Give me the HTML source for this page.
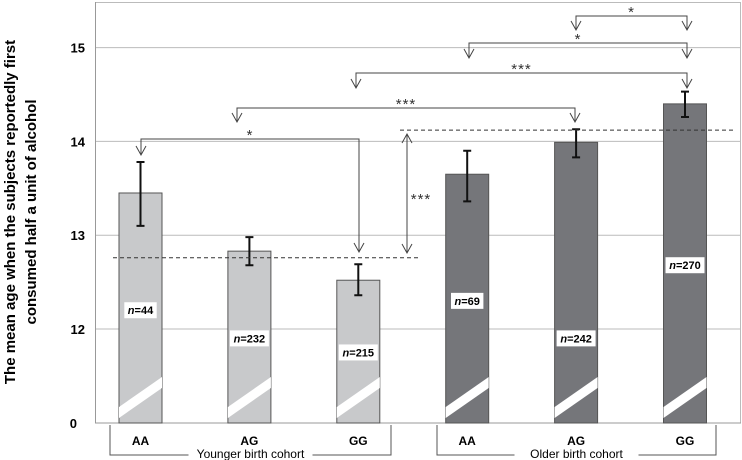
<!DOCTYPE html>
<html><head><meta charset="utf-8"><style>
body{margin:0;background:#fff;}
svg{display:block;font-family:"Liberation Sans",sans-serif;}
</style></head><body>
<svg id="c" width="742" height="460"></svg>
<script>
const categories=["AA","AG","GG","AA","AG","GG"];
const means=[13.45,12.83,12.52,13.65,13.99,14.4];
const errLow=[13.1,12.68,12.36,13.36,13.83,14.26];
const errHigh=[13.78,12.98,12.69,13.9,14.13,14.53];
const nLabels=["44","232","215","69","242","270"];
const nValues=[12.2,11.9,11.75,12.3,11.9,12.68];
const yTicks=[12,13,14,15];
const groupMeans=[12.76,14.12];
const NS="http://www.w3.org/2000/svg";
const svg=document.getElementById("c");
function y(v){return 329-(v-12)*93.8;}
function x(i){return 119+i*108.9;}
function el(t,a,p){const e=document.createElementNS(NS,t);for(const k in a)e.setAttribute(k,a[k]);(p||svg).appendChild(e);return e;}
const fr=el("rect",{x:95.5,y:2.5,width:645,height:420.5,fill:"none",stroke:"#bbb"});

yTicks.forEach(t=>{
 const g=el("line",{x1:95,x2:741,y1:y(t),y2:y(t),stroke:"#bbb","stroke-width":1});
 
 const tx=el("text",{x:85,y:y(t)+5,"text-anchor":"end","font-size":13,"font-weight":"bold"});tx.textContent=t;
 
});
const z=el("text",{x:77,y:428,"text-anchor":"end","font-size":13,"font-weight":"bold"});z.textContent="0";

el("line",{x1:95,x2:741,y1:423,y2:423,stroke:"#999"});
el("line",{x1:95.5,x2:95.5,y1:2,y2:423,stroke:"#999"});
categories.forEach((c,i)=>{
 const bx=x(i), w=43, top=y(means[i]);
 const fill=i<3?"#c8c9cb":"#75767a";
 const r=el("rect",{x:bx,y:top,width:w,height:423-top,fill:fill,stroke:"#555","stroke-width":1});
 
 
 el("polygon",{points:`${bx},${407} ${bx+w},${377} ${bx+w},${388} ${bx},${418}`,fill:"#fff"});
 const cx=bx+w/2;
 const eb=el("path",{d:`M${cx},${y(errHigh[i])}V${y(errLow[i])}M${cx-4},${y(errHigh[i])}h8M${cx-4},${y(errLow[i])}h8`,stroke:"#111","stroke-width":2,fill:"none"});
 
 const ly=y(nValues[i]);
 const lab="n="+nLabels[i];
 const bw=lab.length*6.6+6;
 el("rect",{x:cx-bw/2,y:ly-8,width:bw,height:16,fill:"#fff"});
 const t=el("text",{x:cx,y:ly+4,"text-anchor":"middle","font-size":11,"font-weight":"bold"});
 t.innerHTML='<tspan font-style="italic">n</tspan>='+nLabels[i];
 
 const ct=el("text",{x:cx,y:445,"text-anchor":"middle","font-size":12,"font-weight":"bold"});ct.textContent=c;
 
});
[[113,420],[400,733]].forEach((r,k)=>{
 const d=el("line",{x1:r[0],x2:r[1],y1:y(groupMeans[k]),y2:y(groupMeans[k]),stroke:"#333","stroke-dasharray":"4,3"});
 
});
[[110,391,"Younger birth cohort"],[437,716,"Older birth cohort"]].forEach(g=>{
 el("path",{d:`M${g[0]},425V455H${g[1]}V425`,stroke:"#555",fill:"none"});
 const m=(g[0]+g[1])/2;
 el("rect",{x:m-62,y:448,width:124,height:12,fill:"#fff"});
 const t=el("text",{x:m,y:458,"text-anchor":"middle","font-size":12});t.textContent=g[2];
 
});
function arrow(ax,ay){el("path",{d:`M${ax-5},${ay-9}L${ax},${ay}L${ax+5},${ay-9}`,stroke:"#444",fill:"none"});}
[[576,687,16,30,30,"*"],[469,687,43,58,58,"*"],[356,687,73,88,88,"***"],[237,575,108,122,122,"***"],[141,359,139,155,252,"*"]].forEach(b=>{
 const p=el("path",{d:`M${b[0]},${b[3]}V${b[2]}H${b[1]}V${b[4]}`,stroke:"#444",fill:"none"});
 
 arrow(b[0],b[3]);arrow(b[1],b[4]);
 const t=el("text",{x:(b[0]+b[1])/2,y:b[2]+1,"text-anchor":"middle","font-size":15,fill:"#333","letter-spacing":"1"});t.textContent=b[5];
});
el("path",{d:`M407,134V253M402,143L407,134L412,143M402,244L407,253L412,244`,stroke:"#444",fill:"none"});
const s=el("text",{x:421,y:204,"text-anchor":"middle","font-size":15,fill:"#333","letter-spacing":"1"});s.textContent="***";
const yt=el("text",{transform:"translate(15,212) rotate(-90)","text-anchor":"middle","font-size":15,"font-weight":"bold"});
yt.innerHTML='<tspan x="0" y="0">The mean age when the subjects reportedly first</tspan><tspan x="0" y="21">consumed half a unit of alcohol</tspan>';

</script>
</body></html>
